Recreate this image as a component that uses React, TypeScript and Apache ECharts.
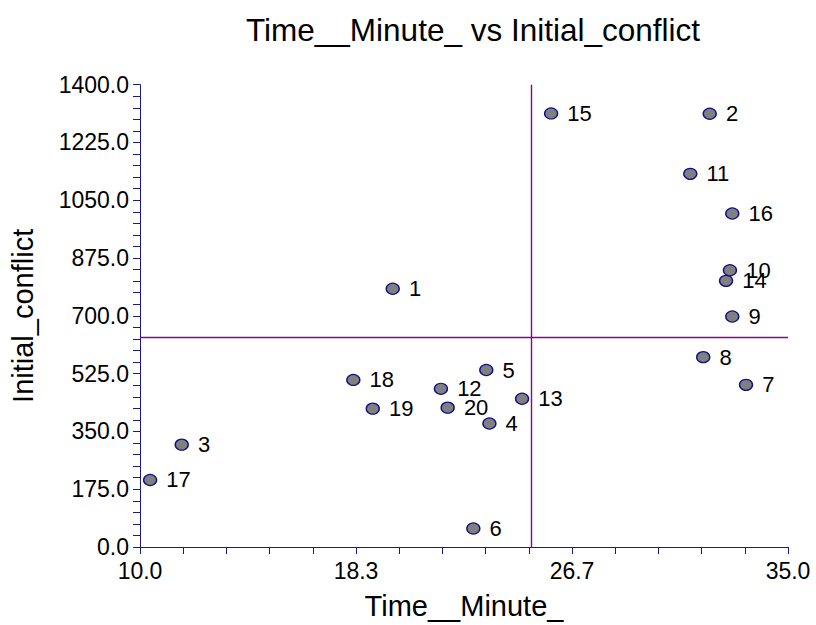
import React, { useEffect, useRef } from "react";
import * as echarts from "echarts";

const pointLabels = ["1","2","3","4","5","6","7","8","9","10","11","12","13","14","15","16","17","18","19","20"];
const timeMinute = [19.75, 31.98, 11.61, 23.48, 23.36, 22.86, 33.38, 31.73, 32.85, 32.76, 31.23, 21.61, 24.74, 32.61, 25.86, 32.85, 10.39, 18.23, 18.98, 21.87];
const initialConflict = [782, 1312, 310, 374, 536, 56, 491, 575, 698, 838, 1130, 479, 449, 806, 1313, 1010, 203, 506, 419, 422];
const xRefLine = 25.1;
const yRefLine = 634;

const FONT = 'Arial, "Liberation Sans", sans-serif';
const AXIS_COLOR = "#1a1a8a";
const REF_COLOR = "#900090";

export default function App() {
  const ref = useRef<HTMLDivElement>(null);
  useEffect(() => {
    if (!ref.current) return;
    const chart = echarts.init(ref.current, null, { renderer: "svg" });
    const xInterval = 25 / 15;
    const data = pointLabels.map((n, i) => ({ name: n, value: [timeMinute[i], initialConflict[i]] }));
    chart.setOption({
      animation: false,
      backgroundColor: "#ffffff",
      textStyle: { fontFamily: FONT },
      title: {
        text: "Time__Minute_ vs Initial_conflict",
        left: 241,
        top: 9,
        textStyle: { fontFamily: FONT, fontSize: 31.5, fontWeight: "normal", color: "#000" },
      },
      grid: { left: 140, right: 28, top: 84.7, bottom: 77.3, containLabel: false },
      xAxis: {
        type: "value",
        min: 10,
        max: 35,
        interval: xInterval,
        name: "Time__Minute_",
        nameLocation: "middle",
        nameGap: 44,
        nameTextStyle: { fontFamily: FONT, fontSize: 29, color: "#000" },
        axisLine: { show: true, onZero: false, lineStyle: { color: AXIS_COLOR, width: 1 } },
        axisTick: { show: true, length: 7, lineStyle: { color: AXIS_COLOR, width: 1 } },
        splitLine: { show: false },
        axisLabel: {
          fontFamily: FONT,
          fontSize: 23,
          color: "#000",
          margin: 12,
          showMinLabel: true,
          showMaxLabel: true,
          formatter: (v: number) => {
            const k = Math.round((v - 10) / xInterval);
            return k % 5 === 0 ? v.toFixed(1) : "";
          },
        },
      },
      yAxis: {
        type: "value",
        min: 0,
        max: 1400,
        interval: 35,
        name: "Initial_conflict",
        nameLocation: "middle",
        nameGap: 103,
        nameTextStyle: { fontFamily: FONT, fontSize: 29, color: "#000" },
        axisLine: { show: true, onZero: false, lineStyle: { color: AXIS_COLOR, width: 1 } },
        axisTick: { show: true, length: 7, lineStyle: { color: AXIS_COLOR, width: 1 } },
        splitLine: { show: false },
        axisLabel: {
          fontFamily: FONT,
          fontSize: 23,
          color: "#000",
          margin: 11,
          showMinLabel: true,
          showMaxLabel: true,
          formatter: (v: number) => (Math.round(v) % 175 === 0 ? v.toFixed(1) : ""),
        },
      },
      series: [
        {
          type: "scatter",
          data,
          symbol: "circle",
          symbolSize: [13, 11],
          itemStyle: { color: "#808080", borderColor: "#10108a", borderWidth: 1.3, opacity: 1 },
          label: {
            show: true,
            position: "right",
            distance: 9,
            formatter: "{b}",
            fontFamily: FONT,
            fontSize: 22,
            color: "#000",
          },
          emphasis: { disabled: true },
          markLine: {
            silent: true,
            symbol: "none",
            label: { show: false },
            lineStyle: { color: REF_COLOR, width: 1.4, type: "solid", opacity: 1 },
            data: [{ xAxis: xRefLine }, { yAxis: yRefLine }],
          },
          z: 3,
        },
      ],
    });
    return () => chart.dispose();
  }, []);
  return (
    <div
      ref={ref}
      style={{ position: "fixed", left: 0, top: 0, width: 816, height: 625, background: "#fff" }}
    />
  );
}
